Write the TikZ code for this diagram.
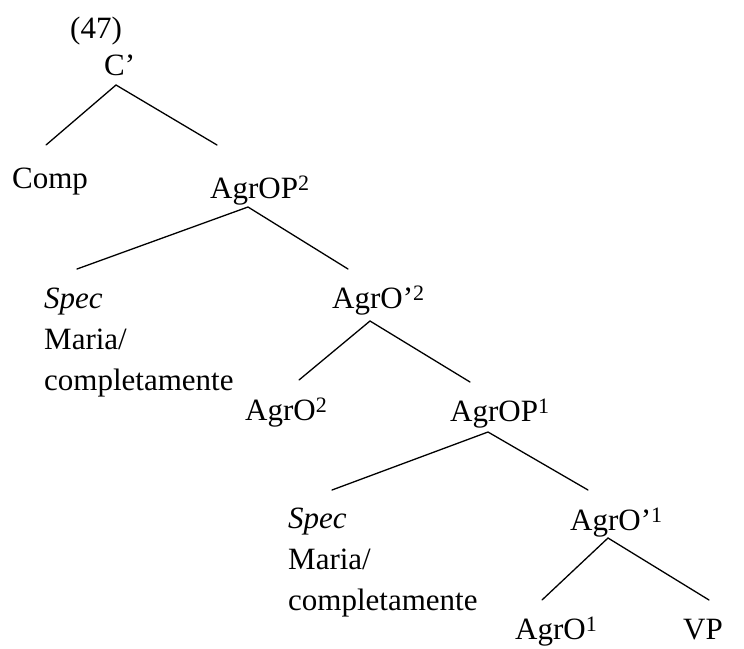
\documentclass[tikz,border=0pt]{standalone}
\usepackage{fontspec}
\setmainfont{Liberation Serif}
\newcommand{\supnum}[1]{\raisebox{8pt}{\fontsize{22}{22}\selectfont #1}}
\begin{document}
\begin{tikzpicture}[x=1pt,y=-1pt,
  lab/.style={anchor=base west,inner sep=0pt,font=\fontsize{31}{37}\selectfont},
  branch/.style={line width=1.3pt,line cap=round}]
\useasboundingbox (0,0) rectangle (744,648);

% labels
\node[lab] (ex)    at (70,38)   {(47)};
\node[lab] (Cbar)  at (104,75)  {C'};
\node[lab] (Comp)  at (12,188)  {Comp};
\node[lab] (AOP2)  at (210,198) {AgrOP\supnum{2}};
\node[lab] (specA) at (44,308)  {\textit{Spec}};
\node[lab] (marA)  at (44,349)  {Maria/};
\node[lab] (comA)  at (44,390)  {completamente};
\node[lab] (AObar2) at (332,308) {AgrO'\supnum{2}};
\node[lab] (AO2)   at (245,420) {AgrO\supnum{2}};
\node[lab] (AOP1)  at (450,421) {AgrOP\supnum{1}};
\node[lab] (specB) at (288,528) {\textit{Spec}};
\node[lab] (marB)  at (288,569) {Maria/};
\node[lab] (comB)  at (288,610) {completamente};
\node[lab] (AObar1) at (570,530) {AgrO'\supnum{1}};
\node[lab] (AO1)   at (515,639) {AgrO\supnum{1}};
\node[lab] (VP)    at (683,639) {VP};

% branch ends
\coordinate (Cbar-b)   at (116,85);
\coordinate (Comp-t)   at (46,145);
\coordinate (AOP2-t)   at (217,145);
\coordinate (AOP2-b)   at (248,207);
\coordinate (specA-t)  at (77,269);
\coordinate (AObar2-t) at (348,269);
\coordinate (AObar2-b) at (370,321);
\coordinate (AO2-t)    at (299,380);
\coordinate (AOP1-t)   at (470,382);
\coordinate (AOP1-b)   at (488,432);
\coordinate (specB-t)  at (332,490);
\coordinate (AObar1-t) at (588,490);
\coordinate (AObar1-b) at (608,538);
\coordinate (AO1-t)    at (542,600);
\coordinate (VP-t)     at (709,600);

% branches
\draw[branch] (Comp-t) -- (Cbar-b) -- (AOP2-t);
\draw[branch] (specA-t) -- (AOP2-b) -- (AObar2-t);
\draw[branch] (AO2-t) -- (AObar2-b) -- (AOP1-t);
\draw[branch] (specB-t) -- (AOP1-b) -- (AObar1-t);
\draw[branch] (AO1-t) -- (AObar1-b) -- (VP-t);
\end{tikzpicture}
\end{document}
